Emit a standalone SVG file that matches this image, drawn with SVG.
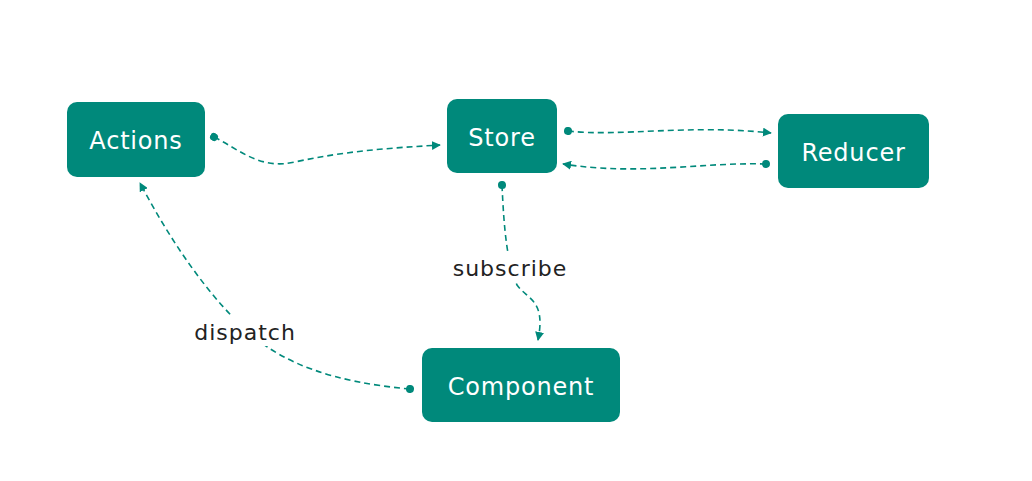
<svg xmlns="http://www.w3.org/2000/svg" width="1032" height="481" viewBox="0 0 1032 481">
<style>
.box{fill:#00897B;}
.nt{font-family:"DejaVu Sans","Liberation Sans",sans-serif;font-size:24px;letter-spacing:0.8px;fill:#ffffff;text-anchor:middle;dominant-baseline:central;}
.lt{font-family:"DejaVu Sans","Liberation Sans",sans-serif;font-size:22px;letter-spacing:1px;fill:#222222;text-anchor:middle;dominant-baseline:central;}
.edge{fill:none;stroke:#00897B;stroke-width:1.6;stroke-dasharray:6,4;marker-start:url(#dot);marker-end:url(#arr);}
.lbg{fill:#ffffff;}
</style>
<defs>
<marker id="dot" viewBox="0 0 10 10" refX="5" refY="5" markerWidth="8" markerHeight="8" markerUnits="userSpaceOnUse" orient="auto"><circle cx="5" cy="5" r="5" fill="#00897B"/></marker>
<marker id="arr" viewBox="0 0 10 10" refX="9" refY="5" markerWidth="9" markerHeight="9" markerUnits="userSpaceOnUse" orient="auto"><path d="M0,0 L10,5 L0,10 z" fill="#00897B"/></marker>
</defs>
<rect width="1032" height="481" fill="#ffffff"/>
<g id="connectors">
<path class="edge" d="M214,137 C240,150 260,170 295,162 C345,151 390,148 440,145"/>
<path class="edge" d="M568,131 C620,137 690,124 771,133"/>
<path class="edge" d="M766,164 C700,162 640,176 563,164"/>
<path class="edge" d="M502,185 C504,230 507,262 517,285 C528,300 546,300 538,340"/>
<path class="edge" d="M410,389 C330,382 285,362 255,338 C210,300 170,240 140,183"/>
<rect class="lbg" x="190" y="316" width="110" height="30"/>
<text class="lt" x="245" y="332">dispatch</text>
<rect class="lbg" x="448" y="252" width="124" height="30"/>
<text class="lt" x="510" y="268">subscribe</text>
</g>
<g id="node-actions"><rect class="box" x="67" y="102" width="138" height="75" rx="10"/><text class="nt" x="136" y="141">Actions</text></g>
<g id="node-store"><rect class="box" x="447" y="99" width="110" height="74" rx="10"/><text class="nt" x="502" y="137.5">Store</text></g>
<g id="node-reducer"><rect class="box" x="778" y="114" width="151" height="74" rx="10"/><text class="nt" x="853.5" y="152.5">Reducer</text></g>
<g id="node-component"><rect class="box" x="422" y="348" width="198" height="74" rx="10"/><text class="nt" x="521" y="386.5">Component</text></g>
</svg>
